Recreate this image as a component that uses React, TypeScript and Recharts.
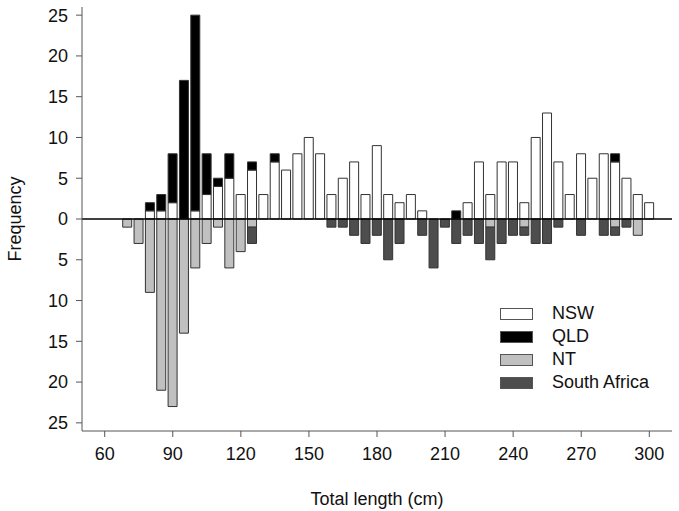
import {
  BarChart,
  Bar,
  XAxis,
  YAxis,
  ReferenceLine,
  Legend,
} from "recharts";

// bin centres (cm)
const bins = [
  70, 75, 80, 85, 90, 95, 100, 105, 110, 115, 120, 125, 130, 135, 140, 145,
  150, 155, 160, 165, 170, 175, 180, 185, 190, 195, 200, 205, 210, 215, 220,
  225, 230, 235, 240, 245, 250, 255, 260, 265, 270, 275, 280, 285, 290, 295,
  300,
];

const nsw = [
  0, 0, 1, 1, 2, 0, 1, 3, 4, 5, 3, 6, 3, 7, 6, 8, 10, 8, 3, 5, 7, 3, 9, 3, 2,
  3, 1, 0, 0, 0, 2, 7, 3, 7, 7, 2, 10, 13, 7, 3, 8, 5, 8, 7, 5, 3, 2,
];

const qld = [
  0, 0, 1, 2, 6, 17, 24, 5, 1, 3, 0, 1, 0, 1, 0, 0, 0, 0, 0, 0, 0, 0, 0, 0, 0,
  0, 0, 0, 0, 1, 0, 0, 0, 0, 0, 0, 0, 0, 0, 0, 0, 0, 0, 1, 0, 0, 0,
];

// plotted below the zero line
const nt = [
  1, 3, 9, 21, 23, 14, 6, 3, 1, 6, 4, 1, 0, 0, 0, 0, 0, 0, 0, 0, 0, 0, 0, 0, 0,
  0, 0, 0, 0, 0, 0, 0, 1, 0, 0, 1, 0, 0, 0, 0, 0, 0, 0, 1, 0, 2, 0,
];

const southAfrica = [
  0, 0, 0, 0, 0, 0, 0, 0, 0, 0, 0, 2, 0, 0, 0, 0, 0, 0, 1, 1, 2, 3, 2, 5, 3,
  0, 2, 6, 1, 3, 2, 3, 4, 3, 2, 1, 3, 3, 1, 0, 2, 0, 2, 1, 1, 0, 0,
];

const xTicks = [60, 90, 120, 150, 180, 210, 240, 270, 300];
const yTicks = [-25, -20, -15, -10, -5, 0, 5, 10, 15, 20, 25];

const series = [
  { key: "NSW", fill: "#ffffff" },
  { key: "QLD", fill: "#000000" },
  { key: "NT", fill: "#c0c0c0" },
  { key: "South Africa", fill: "#4d4d4d" },
];

const data = bins.map((len, i) => ({
  len,
  NSW: nsw[i],
  QLD: qld[i],
  NT: -nt[i],
  "South Africa": -southAfrica[i],
}));

const font = '"Liberation Sans", Arial, sans-serif';

function LegendBox() {
  return (
    <div style={{ fontFamily: font, fontSize: 18, color: "#111" }}>
      {series.map((s) => (
        <div
          key={s.key}
          style={{ display: "flex", alignItems: "center", height: 23 }}
        >
          <div
            style={{
              width: 31,
              height: 10,
              background: s.fill,
              border: "1px solid #555",
              marginRight: 19,
            }}
          />
          <span>{s.key}</span>
        </div>
      ))}
    </div>
  );
}

function YTitle() {
  return (
    <text
      x={21}
      y={219}
      transform="rotate(-90, 21, 219)"
      textAnchor="middle"
      fontFamily={font}
      fontSize={18}
      fill="#111"
    >
      Frequency
    </text>
  );
}

export default function App() {
  return (
    <div style={{ position: "absolute", left: 0, top: 0 }}>
      <BarChart
        width={679}
        height={511}
        data={data}
        stackOffset="sign"
        margin={{ top: 7, right: 7, bottom: 0, left: 0 }}
      >
        <XAxis
          dataKey="len"
          type="number"
          domain={[50, 310]}
          ticks={xTicks}
          allowDataOverflow
          height={80}
          stroke="#555"
          tickSize={6}
          tickMargin={10}
          tick={{ fill: "#111", fontSize: 18, fontFamily: font }}
          label={{
            value: "Total length (cm)",
            position: "insideBottom",
            offset: 6,
            fill: "#111",
            fontSize: 18,
            fontFamily: font,
          }}
        />
        <YAxis
          type="number"
          domain={[-26, 26]}
          ticks={yTicks}
          allowDataOverflow
          width={82}
          stroke="#555"
          tickSize={6}
          tickMargin={8}
          tickFormatter={(v: number) => String(Math.abs(v))}
          tick={{ fill: "#111", fontSize: 18, fontFamily: font }}
          label={<YTitle />}
        />
        {series.map((s) => (
          <Bar
            key={s.key}
            dataKey={s.key}
            stackId="a"
            fill={s.fill}
            stroke="#333"
            strokeWidth={1}
            barSize={9}
            isAnimationActive={false}
          />
        ))}
        <ReferenceLine y={0} stroke="#000" strokeWidth={1.5} />
        <Legend
          layout="vertical"
          align="center"
          verticalAlign="middle"
          content={() => <LegendBox />}
          wrapperStyle={{ position: "absolute", left: 500, top: 302, width: 170 }}
        />
      </BarChart>
    </div>
  );
}
